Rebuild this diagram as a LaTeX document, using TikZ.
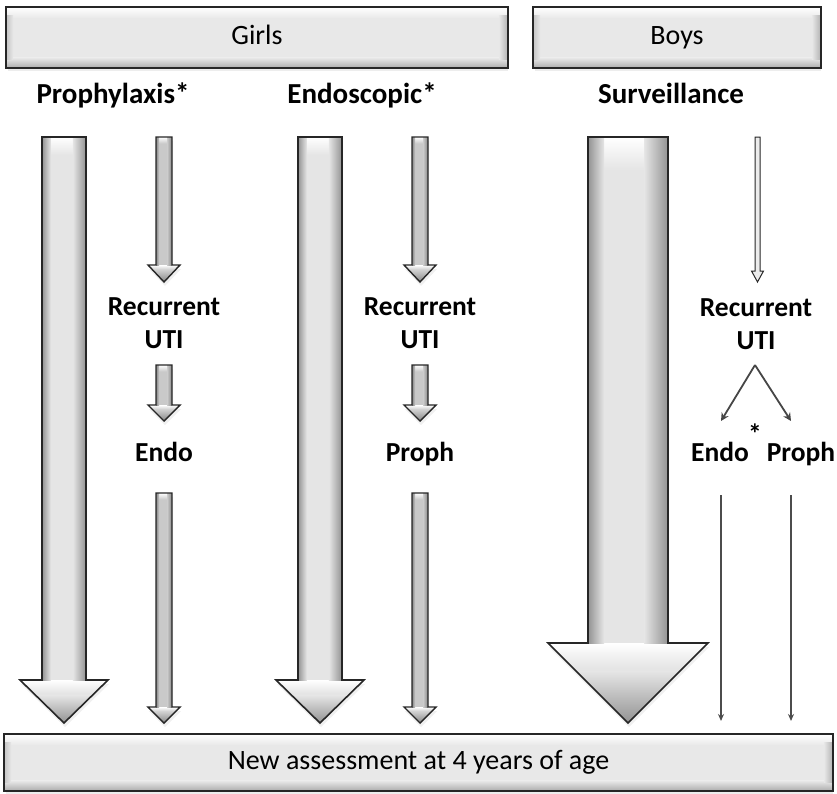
\documentclass[tikz,border=0pt]{standalone}
\usepackage{fontspec}
\setmainfont{Carlito}
\usetikzlibrary{arrows.meta,shadows}
\colorlet{boxface}{gray!18}
\colorlet{bigface}{gray!20}
\colorlet{bigedge}{gray!85}
\colorlet{smallface}{gray!42}
\colorlet{smalledge}{gray!105!black}
% block arrow pointing down; y values given as positive distances from the top
\newcommand\blkarrow[9]{% cx, top, headbase, tip, shaft half, head half, face, edge, frame style
  \def\blkpoly{({#1-#5},{-(#2)}) -- ({#1+#5},{-(#2)}) -- ({#1+#5},{-(#3)}) -- ({#1+#6},{-(#3)}) -- ({#1},{-(#4)})
     -- ({#1-#6},{-(#3)}) -- ({#1-#5},{-(#3)}) -- cycle}%
  \path[fill=#7, drop shadow={opacity=0.12, shadow xshift=1pt, shadow yshift=-4pt}] \blkpoly;
  \begin{scope}
    \clip \blkpoly;
    \shade[top color=white, bottom color=#7] ({#1-#5},{-(#2)}) rectangle ({#1+#5},{-(#2+0.8*#5)});
    \shade[top color=white, bottom color=#7] ({#1-#6},{-(#3)}) rectangle ({#1+#6},{-(#3+0.3*(#4-#3))});
    \shade[left color=#7, right color=#8] ({#1+0.4*#5},{-(#2)}) rectangle ({#1+#5},{-(#3)});
    \shade[left color=#8, right color=#7] ({#1-#5},{-(#2)}) rectangle ({#1-0.6*#5},{-(#3)});
    \shade[top color=#7, bottom color=#8] ({#1-#6},{-(#3+0.35*(#4-#3))}) rectangle ({#1+#6},{-(#4)});
  \end{scope}
  \draw[#9] \blkpoly;}
\tikzset{
  bevelbox/.style={draw=black!85, line width=1.6pt, rectangle, fill=boxface,
     drop shadow={opacity=0.14, shadow xshift=1pt, shadow yshift=-4pt},
     font=\fontsize{28}{32}\selectfont, inner sep=0pt, text height=19pt, text depth=6pt},
  title/.style={font=\bfseries\fontsize{29}{33}\selectfont, inner sep=0pt, text height=20pt, text depth=7pt},
  lab/.style={font=\bfseries\fontsize{27.5}{33}\selectfont, align=center, inner sep=0pt},
  lab1/.style={lab, text height=19pt, text depth=7pt},
  bigarrow/.style={draw=black!85, line width=1.6pt, line join=miter},
  smallarrow/.style={draw=black!85, line width=1.4pt, line join=miter},
  thinarrow/.style={draw=black!85, line width=1pt},
  grayline/.style={draw=gray!55!black, line width=1.8pt,
     -{Stealth[length=8pt,width=8pt]}},
  thinline/.style={draw=gray!60!black, line width=1.3pt,
     -{Stealth[length=7pt,width=6pt]}}
}
% bevel for a rectangular box given its node name
\newcommand\bevel[1]{%
  \begin{scope}
    \clip (#1.south west) rectangle (#1.north east);
    \shade[top color=white, bottom color=boxface] (#1.north west) rectangle ([yshift=-11pt]#1.north east);
    \shade[top color=boxface, bottom color=gray!65] ([yshift=10pt]#1.south west) rectangle (#1.south east);
    \shade[left color=boxface, right color=gray!60] ([xshift=-9pt,yshift=-8pt]#1.north east) rectangle ([yshift=8pt]#1.south east);
    \shade[left color=gray!45, right color=boxface] ([yshift=-8pt]#1.north west) rectangle ([xshift=7pt,yshift=8pt]#1.south west);
  \end{scope}
  \draw[draw=black!85, line width=1.6pt] (#1.south west) rectangle (#1.north east);
  \node[font=\fontsize{28}{32}\selectfont, inner sep=0pt, text height=19pt, text depth=6pt] at (#1.center) {\bevellabel};}
\begin{document}
\begin{tikzpicture}[x=1pt,y=1pt]
\useasboundingbox (0,0) rectangle (837,-793);
% header boxes
\node[bevelbox, minimum width=500pt, minimum height=59pt] (girls) at (257,-37.5) {};
\def\bevellabel{Girls}\bevel{girls}
\node[bevelbox, minimum width=286pt, minimum height=59pt] (boys) at (677,-37.5) {};
\def\bevellabel{Boys}\bevel{boys}
% column titles
\node[title] (prophylaxis) at (113,-97) {Prophylaxis*};
\node[title] (endoscopic) at (362,-97) {Endoscopic*};
\node[title] (surveillance) at (671,-97) {Surveillance};
% big arrows
\blkarrow{64}{137}{680}{723}{22}{44}{bigface}{bigedge}{bigarrow}
\blkarrow{320}{137}{680}{723}{22}{44}{bigface}{bigedge}{bigarrow}
\blkarrow{628}{137}{643}{723}{40}{80}{bigface}{bigedge}{bigarrow}
% girls prophylaxis column
\blkarrow{164}{137}{265}{282}{8}{16}{smallface}{smalledge}{smallarrow}
\node[lab] (rec1) at (164,-323) {Recurrent\\UTI};
\blkarrow{164}{365}{405}{421}{8}{16}{smallface}{smalledge}{smallarrow}
\node[lab1] (endo1) at (164,-455) {Endo};
\blkarrow{164}{493}{707}{723}{8}{16}{smallface}{smalledge}{smallarrow}
% girls endoscopic column
\blkarrow{420}{137}{265}{282}{8}{16}{smallface}{smalledge}{smallarrow}
\node[lab] (rec2) at (420,-323) {Recurrent\\UTI};
\blkarrow{420}{365}{405}{421}{8}{16}{smallface}{smalledge}{smallarrow}
\node[lab1] (proph2) at (420,-455) {Proph};
\blkarrow{420}{493}{707}{723}{8}{16}{smallface}{smalledge}{smallarrow}
% boys surveillance column
\path[thinarrow, fill=gray!15] (755,-137) -- (760,-137) -- (760,-271) -- (763.5,-271) -- (757.5,-282)
   -- (751.5,-271) -- (755,-271) -- cycle;
\node[lab] (rec3) at (756,-324) {Recurrent\\UTI};
\node[lab1] (endo3) at (720,-455) {Endo};
\node[lab1] (proph3) at (801,-455) {Proph};
\node[lab] (star) at (755,-434) {*};
\coordinate (vtop) at (755,-365);
\coordinate (vl) at (721,-421);
\coordinate (vr) at (791,-421);
\draw[grayline] (vtop) -- (vl);
\draw[grayline] (vtop) -- (vr);
\coordinate (la) at (721,-495);
\coordinate (lb) at (721,-721);
\coordinate (ra) at (791,-495);
\coordinate (rb) at (791,-721);
\draw[thinline] (la) -- (lb);
\draw[thinline] (ra) -- (rb);
% bottom box
\node[bevelbox, minimum width=827pt, minimum height=55pt] (assess) at (418.5,-762.5) {};
\def\bevellabel{New assessment at 4 years of age}\bevel{assess}
\end{tikzpicture}
\end{document}
